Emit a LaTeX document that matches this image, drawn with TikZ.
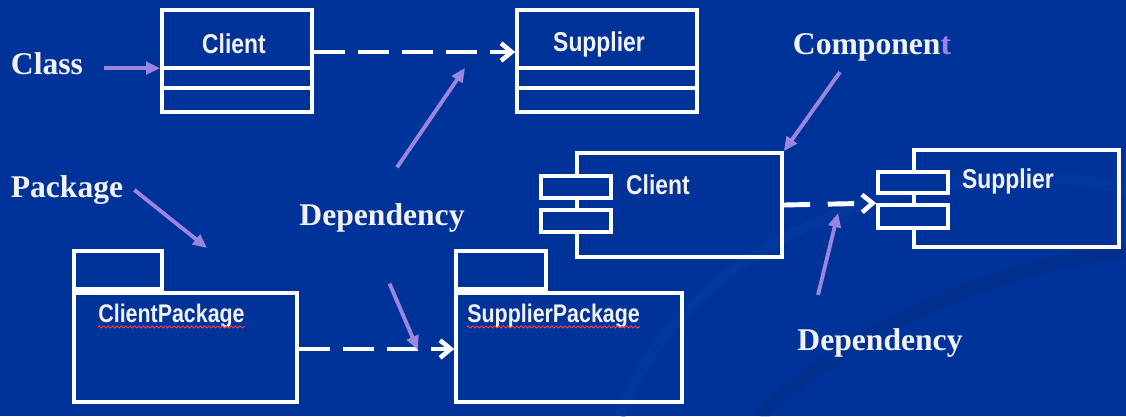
\documentclass[tikz,border=0pt]{standalone}
\usepackage{fontspec}
\setmainfont{Liberation Serif}
\setsansfont{Liberation Sans}
\newfontfamily\umlfont[FakeStretch=0.84]{Liberation Sans}
\usetikzlibrary{arrows.meta,decorations.pathmorphing}
\definecolor{slideblue}{HTML}{003399}
\definecolor{swoosh}{HTML}{0A3DA6}
\definecolor{pointer}{HTML}{9B85E0}
\definecolor{chalk}{HTML}{F2F2F5}
\tikzset{
  umlbox/.style={draw=white,line width=2.1pt,inner sep=0pt},
  boxname/.style={text=chalk,font=\umlfont\bfseries\fontsize{15.5}{18}\selectfont},
  pkgname/.style={text=chalk,inner sep=0pt,font=\umlfont\bfseries\fontsize{14.5}{17}\selectfont},
  caption/.style={text=chalk,font=\bfseries\fontsize{18}{21}\selectfont},
  hint/.style={draw=pointer,line width=2.2pt,-{Triangle[length=8pt,width=7pt]}},
  depend/.style={draw=white,line width=2.8pt,dash pattern=on 18pt off 7pt,
    -{Straight Barb[length=6pt,width=10pt,line width=2.6pt]}},
  squiggle/.style={draw=red!75!white,line width=0.5pt,decorate,
    decoration={snake,amplitude=0.6pt,segment length=2.5pt}}
}
\begin{document}
\begin{tikzpicture}[x=0.02cm,y=-0.02cm]
    \fill[slideblue] (0,0) rectangle (1126,416);
    \useasboundingbox (0,0) rectangle (1126,416);
    % faint swooshes of the slide background
    \draw[swoosh,line width=6pt,opacity=0.4] (620,416) .. controls (700,200) and (1000,150) .. (1126,190);
    \draw[swoosh!60!black,line width=8pt,opacity=0.2] (760,416) .. controls (880,300) and (1050,260) .. (1126,250);

    % class diagram
    \node[umlbox,minimum width=3cm,minimum height=2.04cm] (cliclass) at (237,61) {};
    \node[boxname] (cliname) at (234,44) {Client};
    \draw[white,line width=2.1pt] ([yshift=-1.2cm]cliclass.north west) coordinate (clisep) -- ([yshift=-1.2cm]cliclass.north east);
    \draw[white,line width=2.1pt] ([yshift=-1.6cm]cliclass.north west) -- ([yshift=-1.6cm]cliclass.north east);
    \node[umlbox,minimum width=3.6cm,minimum height=2.04cm] (supclass) at (607,61) {};
    \node[boxname] (supname) at (599,44) {Supplier};
    \draw[white,line width=2.1pt] ([yshift=-1.2cm]supclass.north west) -- ([yshift=-1.2cm]supclass.north east);
    \draw[white,line width=2.1pt] ([yshift=-1.6cm]supclass.north west) -- ([yshift=-1.6cm]supclass.north east);
    \draw[depend] ([yshift=0.18cm]cliclass.east) -- ([yshift=0.18cm]supclass.west);

    % component diagram
    \node[umlbox,minimum width=4.1cm,minimum height=2.08cm] (clicomp) at (679.5,205) {};
    \node[umlbox,fill=slideblue,minimum width=1.4cm,minimum height=0.44cm] (clicompa) at (576,187) {};
    \node[umlbox,fill=slideblue,minimum width=1.4cm,minimum height=0.44cm] (clicompb) at (576,221) {};
    \node[boxname,anchor=west] (clicompname) at (620,185) {Client};
    \node[umlbox,minimum width=4.1cm,minimum height=1.94cm] (supcomp) at (1016.5,198.5) {};
    \node[umlbox,fill=slideblue,minimum width=1.4cm,minimum height=0.42cm] (supcompa) at (913,182.5) {};
    \node[umlbox,fill=slideblue,minimum width=1.4cm,minimum height=0.46cm] (supcompb) at (913,216.5) {};
    \node[boxname,anchor=west] (supcompname) at (956,181) {Supplier};
    \draw[depend,dash pattern=on 15pt off 10pt] (clicomp.east) -- (supcompb.north west);

    % package diagram
    \node[umlbox,minimum width=4.46cm,minimum height=2.18cm] (clipkg) at (185.5,347.5) {};
    \node[umlbox,minimum width=1.76cm,minimum height=0.76cm,anchor=south west] (clipkgtab) at (clipkg.north west) {};
    \node[pkgname,anchor=west] (clipkgname) at (98,316) {ClientPackage};
    \draw[squiggle] ([yshift=-2.5pt]clipkgname.base west) -- ([yshift=-2.5pt]clipkgname.base east);
    \node[umlbox,minimum width=4.52cm,minimum height=2.18cm] (suppkg) at (569,347.5) {};
    \node[umlbox,minimum width=1.8cm,minimum height=0.76cm,anchor=south west] (suppkgtab) at (suppkg.north west) {};
    \node[pkgname,anchor=west] (suppkgname) at (467,316) {SupplierPackage};
    \draw[squiggle] ([yshift=-2.5pt]suppkgname.base west) -- ([yshift=-2.5pt]suppkgname.base east);
    \draw[depend] ([yshift=-0.03cm]clipkg.east) -- ([yshift=-0.03cm]suppkg.west);

    % captions and pointers
    \node[caption] (lblclass) at (47,64) {Class};
    \draw[hint] ([xshift=0.3cm]lblclass.east |- clisep) -- (clisep);
    \node[caption] (lblpkg) at (67,190) {Package};
    \coordinate (pkgtip) at (207,248);
    \draw[hint] ([xshift=0.1cm]lblpkg.east) -- (pkgtip);
    \node[caption] (lbldep) at (382,218) {Dependency};
    \coordinate (deptipa) at (465,68);
    \coordinate (deptipb) at (418,350);
    \draw[hint] ([xshift=0.3cm,yshift=0.6cm]lbldep.north) -- (deptipa);
    \draw[hint] ([xshift=0.15cm,yshift=-0.9cm]lbldep.south) -- (deptipb);
    \node[caption] (lblcomp) at (872,47) {Componen\textcolor{pointer}{t}};
    \draw[hint] ([xshift=-0.64cm,yshift=-0.1cm]lblcomp.south) -- (clicomp.north east);
    \node[caption] (lbldepb) at (880,343) {Dependency};
    \coordinate (deptipc) at (838,213);
    \draw[hint] ([xshift=-1.24cm,yshift=0.55cm]lbldepb.north) -- (deptipc);
\end{tikzpicture}
\end{document}
